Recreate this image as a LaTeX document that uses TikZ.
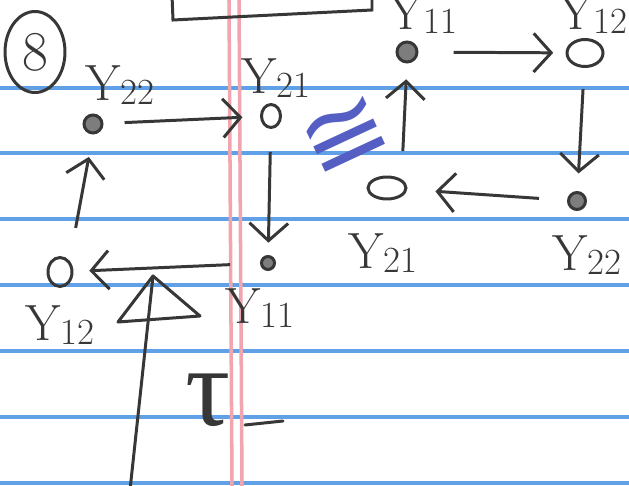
\documentclass[tikz,border=0pt]{standalone}
\usepackage{fontspec}
\newfontfamily\symfont{DejaVu Sans}
\newfontfamily\greekfont{Liberation Serif}
\usetikzlibrary{shapes.geometric, arrows.meta, calc}
\definecolor{pen}{RGB}{55, 55, 55}
\definecolor{ruleblue}{RGB}{95, 160, 230}
\definecolor{marginpink}{RGB}{240, 165, 175}
\definecolor{inkblue}{RGB}{85, 95, 195}
\newcommand{\ylab}[1]{Y\raisebox{-0.2ex}{\fontsize{21}{21}\selectfont #1}}
\tikzset{
    ruled/.style={ruleblue, line width=2pt},
    margin/.style={marginpink, line width=2pt},
    stroke/.style={pen, line width=1.7pt, line cap=round},
    opendot/.style={ellipse, draw=pen, line width=1.7pt, inner sep=0pt},
    fulldot/.style={circle, draw=pen, fill=pen!65, line width=1.7pt, inner sep=0pt},
    lbl/.style={text=pen, font=\fontsize{29}{31}\selectfont, inner sep=1pt},
    arr/.style={-{Straight Barb[length=10pt, width=22pt]}, line width=1.7pt, color=pen},
}

\begin{document}
\begin{tikzpicture}[x=0.02cm, y=-0.02cm]
    % Paper
    \clip (0, 0) rectangle (629, 486);
    \fill[white] (0, 0) rectangle (629, 486);
    \foreach \y in {88, 153, 219, 285, 351, 417, 483}
        \draw[ruled] (0, \y) -- (629, \y);
    \draw[margin] (229, 0) -- (232, 486);
    \draw[margin] (239, 0) -- (242, 486);

    % Header
    \node[ellipse, draw=pen, line width=1.7pt, minimum width=1.2cm, minimum height=1.62cm,
          text=pen, font=\fontsize{32}{34}\selectfont] (num) at (35, 52) {8};
    \draw[stroke] (172, -5) -- (173, 20) -- (372, 10) -- (372, -5);

    % Left cycle
    \node[fulldot, minimum size=0.36cm] (l22) at (93, 124) {};
    \node[opendot, minimum width=0.38cm, minimum height=0.46cm] (l21) at (271, 116) {};
    \node[fulldot, minimum size=0.26cm] (l11) at (268, 263) {};
    \node[opendot, minimum width=0.48cm, minimum height=0.58cm] (l12) at (60, 272) {};
    \node[lbl] (tl22) at (120, 85) {\ylab{22}};
    \node[lbl] (tl21) at (276, 78) {\ylab{21}};
    \node[lbl] (tl11) at (260, 308) {\ylab{11}};
    \node[lbl] (tl12) at (60, 325) {\ylab{12}};
    \draw[arr, shorten <=12pt, shorten >=10pt] (l22) -- (l21);
    \draw[arr, shorten <=13pt, shorten >=7pt] (l21) -- (l11);
    \draw[arr, shorten <=17pt, shorten >=9pt] (l11) -- (l12);
    \draw[arr, shorten <=19pt, shorten >=13pt] (l12.north east) -- (l22.south);

    % Right cycle
    \node[fulldot, minimum size=0.4cm] (r11) at (407, 52) {};
    \node[opendot, minimum width=0.72cm, minimum height=0.54cm] (r12) at (585, 53) {};
    \node[fulldot, minimum size=0.34cm] (r22) at (577, 201) {};
    \node[opendot, minimum width=0.76cm, minimum height=0.44cm] (r21) at (387, 188) {};
    \node[lbl] (tr11) at (423, 14) {\ylab{11}};
    \node[lbl] (tr12) at (593, 14) {\ylab{12}};
    \node[lbl] (tr21) at (383, 253) {\ylab{21}};
    \node[lbl] (tr22) at (587, 255) {\ylab{22}};
    \draw[arr, shorten <=20pt, shorten >=7pt] (r11) -- (r12);
    \draw[arr, shorten <=12pt, shorten >=10pt] (r12) -- (r22);
    \draw[arr, shorten <=16pt, shorten >=16pt] (r22) -- (r21);
    \draw[arr, shorten <=16pt, shorten >=9pt] (r21.north east) -- (r11.south);

    % Isomorphic
    \node[text=inkblue, rotate=25, inner sep=0pt, font=\symfont\fontsize{60}{60}\selectfont] (iso) at (346, 138) {≅};

    % Triangle and tau
    \coordinate (apex) at (153, 276);
    \coordinate (tail) at (130, 490);
    \draw[stroke, line join=round] (apex) -- (118, 322) -- (200, 316) -- cycle;
    \draw[stroke] (tail) -- (apex);
    \node[text=pen, font=\greekfont\fontsize{64}{64}\selectfont] (tau) at (208, 400) {τ};
    \draw[stroke] (245, 425) -- (283, 421);
\end{tikzpicture}
\end{document}
